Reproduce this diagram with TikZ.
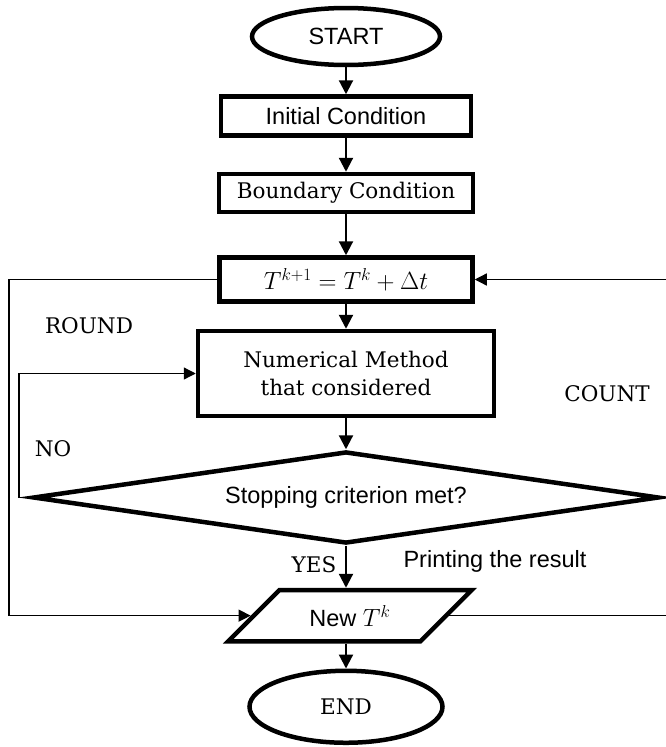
\documentclass[tikz,border=0pt]{standalone}
\usepackage{fontspec}
\setsansfont{Liberation Sans}
\newfontfamily\labelserif{DejaVu Serif}
\usetikzlibrary{shapes.geometric,arrows.meta,positioning}

\begin{document}
\begin{tikzpicture}[x=1pt,y=1pt,
  serif/.style={font=\labelserif\fontsize{21.5}{28}\selectfont},
  sans/.style={font=\fontsize{23.5}{28}\selectfont\sffamily},
  terminal/.style={ellipse,draw,line width=4.5pt,inner sep=0pt},
  process/.style={rectangle,draw,line width=4.5pt,inner sep=0pt,align=center},
  decision/.style={diamond,shape aspect=6.6,draw,line width=4.5pt,inner sep=0pt},
  io/.style={trapezium,trapezium left angle=45,trapezium right angle=135,
    draw,line width=4.5pt,inner xsep=30pt,inner ysep=15pt},
  flow/.style={line width=2.2pt,-{Triangle[width=14pt,length=14pt]}},
  backline/.style={line width=1.3pt,-{Triangle[width=12pt,length=12pt]}}]
  \useasboundingbox (0,0) rectangle (665,-747);
  \node[terminal,sans,minimum width=188pt,minimum height=57pt] (start) at (346,-36.5) {START};
  \node[process,sans,minimum width=250pt,minimum height=39pt,below=27pt of start] (init) {Initial Condition};
  \node[process,serif,minimum width=254pt,minimum height=38pt,below=34pt of init] (bound) {Boundary Condition};
  \node[process,font=\fontsize{24}{29}\selectfont,minimum width=253pt,minimum height=44pt,below=41pt of bound] (update) {$T^{k+1}=T^k+\Delta t$};
  \node[process,serif,minimum width=296pt,minimum height=85pt,below=25pt of update] (method) {Numerical Method\\that considered};
  \node[decision,sans,minimum width=626pt,minimum height=92pt,below=31pt of method] (stop) {Stopping criterion met?};
  \node[io,sans,below=42pt of stop,xshift=4pt] (newT) {New $T^k$};
  \node[terminal,serif,minimum width=193pt,minimum height=72pt,below=25pt of newT,xshift=-4pt] (end) {END};

  \node[serif] (roundlbl) at (89,-326) {ROUND};
  \node[serif] (nolbl) at (53,-449) {NO};
  \node[serif] (countlbl) at (607,-394) {COUNT};
  \node[serif] (yeslbl) at (314,-565) {YES};
  \node[sans] (printlbl) at (495,-561) {Printing the result};

  \coordinate (leftrail) at (9,0);
  \coordinate (norail) at (19,0);
  \coordinate (rightrail) at (668,0);

  \draw[flow] (start) -- (init);
  \draw[flow] (init) -- (bound);
  \draw[flow] (bound) -- (update);
  \draw[flow] (update) -- (method);
  \draw[flow] (method) -- (stop);
  \draw[flow] (stop) -- (stop |- newT.north);
  \draw[flow] (end |- newT.south) -- (end);
  \draw[backline] (stop.west) -- (stop.west -| norail) |- (method.west);
  \draw[backline] (update.west) -- (update.west -| leftrail) |- (newT.west);
  \draw[backline] (newT.east) -- (newT.east -| rightrail) |- (update.east);
\end{tikzpicture}
\end{document}
